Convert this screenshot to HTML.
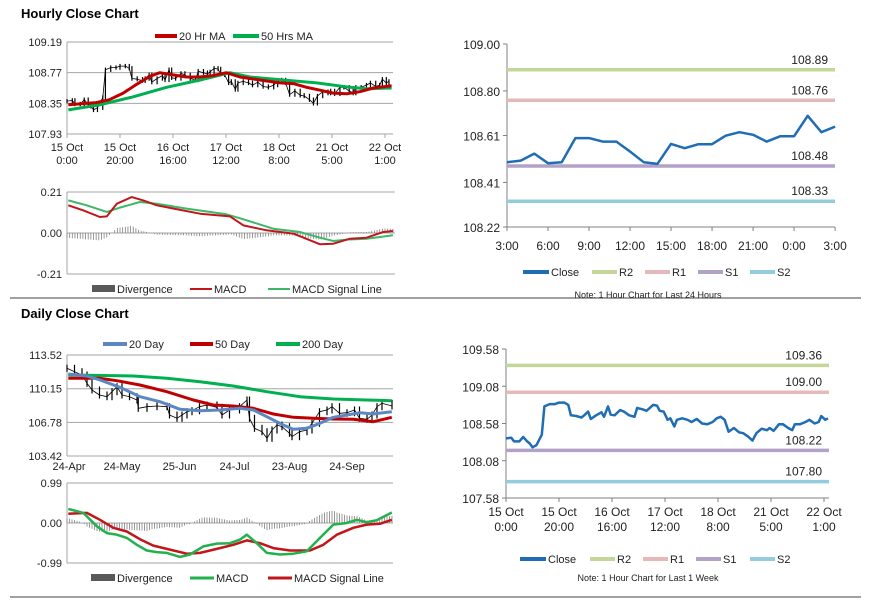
<!DOCTYPE html>
<html><head><meta charset="utf-8">
<style>
html,body{margin:0;padding:0;background:#fff;}
svg{display:block;font-family:"Liberation Sans",Arial,sans-serif;}
</style></head>
<body>
<svg id="c" width="873" height="601" viewBox="0 0 873 601" xmlns="http://www.w3.org/2000/svg"></svg>
<script>
// ---------- DATA ----------
// Hourly close, last 1 week (hour offset from 15 Oct 0:00)
const weekHours = [0,2,3,5,6.5,8,9,10,11.5,13.5,14.5,16.5,18.5,20,22,23.5,24.5,26.5,28.5,29.5,31,32,34,36,37,38.5,39.5,41,43,44.5,46.5,48.5,49.5,51.5,53,54,55.5,57,58,59.5,61,62,63.5,64.5,66.5,68.5,70,72,74,76,78,79.5,81,82.5,84,86,88,89.5,91.5,93,94.5,96.5,98.5,99.5,101,103,104.5,106.5,108,109,111,113,114.5,116.5,118,119,120.5,121.5];
const weekClose = [108.38,108.39,108.34,108.34,108.40,108.34,108.31,108.26,108.29,108.43,108.81,108.84,108.84,108.86,108.86,108.83,108.69,108.68,108.66,108.69,108.74,108.64,108.69,108.73,108.67,108.81,108.70,108.69,108.76,108.74,108.69,108.67,108.79,108.77,108.75,108.78,108.83,108.82,108.75,108.74,108.63,108.65,108.54,108.63,108.65,108.63,108.60,108.64,108.58,108.57,108.60,108.65,108.67,108.63,108.47,108.52,108.46,108.45,108.40,108.35,108.45,108.51,108.49,108.52,108.48,108.57,108.57,108.52,108.49,108.57,108.57,108.60,108.63,108.58,108.60,108.68,108.63,108.65];
const ma20Hours = [0.5,11,16,21.2,26.3,31.3,35,40,45,50,55,60.2,65.3,72.8,80.4,85.4,90.4,95.5,100.5,105.5,110.5,115.6,122.5];
const ma20Vals = [108.33,108.36,108.40,108.49,108.61,108.72,108.77,108.74,108.71,108.71,108.73,108.77,108.71,108.67,108.63,108.62,108.57,108.53,108.49,108.48,108.51,108.56,108.59];
const ma50Hours = [0.5,12.4,25,37.6,50.2,61.5,69,81.6,94.2,106.8,113,122.5];
const ma50Vals = [108.26,108.33,108.44,108.57,108.67,108.77,108.71,108.67,108.63,108.57,108.55,108.56];
const macdHHours = [0.5,6.2,12.4,15,18.8,24.4,28.8,33.9,40.3,50.2,61.5,66.6,75.3,85.4,95.5,100.5,106.8,113,119.4,123];
const macdHVals = [0.142,0.116,0.082,0.085,0.150,0.184,0.167,0.142,0.125,0.099,0.085,0.039,0.014,-0.003,-0.058,-0.055,-0.029,-0.024,0.005,0.010];
const sigHHours = [0.5,7.4,15,20,27.5,33.9,45.1,60.2,67.8,77.8,87.9,95.5,100.5,105.5,113,123];
const sigHVals = [0.167,0.142,0.108,0.130,0.159,0.150,0.125,0.096,0.065,0.022,0.005,-0.024,-0.041,-0.034,-0.029,-0.012];
const hourTicksH = [0,20,40,60,80,100,120];
const hourTickL1 = ["15 Oct","15 Oct","16 Oct","17 Oct","18 Oct","21 Oct","22 Oct"];
const hourTickL2 = ["0:00","20:00","16:00","12:00","8:00","5:00","1:00"];
const p1Ticks = [109.19,108.77,108.35,107.93];
const m1Ticks = [0.21,0.00,-0.21];

// 24-hour chart
const dayClose = [108.496,108.503,108.533,108.492,108.496,108.599,108.599,108.584,108.584,108.542,108.496,108.489,108.574,108.556,108.573,108.573,108.609,108.624,108.613,108.584,108.607,108.607,108.694,108.624,108.648];
const dayTickLabels = ["3:00","6:00","9:00","12:00","15:00","18:00","21:00","0:00","3:00"];
const p2Ticks = [109.00,108.80,108.61,108.41,108.22];
const levels24Names = ["R2","R1","S1","S2"];
const levels24 = [108.89,108.76,108.48,108.33];
const levelsWeek = [109.36,109.00,108.22,107.80];
const p4Ticks = [109.58,109.08,108.58,108.08,107.58];

// Daily chart (trading-day index)
const dClIdx = [0,3,6,8,10,13,16,18,20,22,25,28,28.5,32,36,40,41,44,46,48,50,53,56,60,62,65,69,72,73,75,78,80,82,84,86,89,90,93,96,98,101,104,106,109,112,115,117,120,122,124,126,130];
const dClVals = [112.19,111.85,111.52,110.69,110.02,109.52,109.35,109.85,110.35,109.52,109.35,109.02,108.19,108.35,108.42,108.35,107.52,107.19,107.52,107.85,107.95,108.35,108.52,108.29,107.52,108.02,108.35,109.02,107.19,106.19,105.85,105.19,106.02,106.52,106.35,105.69,105.35,105.85,106.02,106.69,107.85,108.02,108.35,107.69,107.75,108.02,107.19,107.09,107.52,108.35,108.69,108.42];
const d20Idx = [0.5,7.9,13.2,21.2,29.2,37.2,45.2,53.2,61.2,69.2,74.5,79.9,86.5,90.5,95.9,101.2,106.5,111.9,117.2,122.5,129.9];
const d20Vals = [111.62,111.42,111.02,110.29,109.35,108.85,108.09,107.95,108.02,108.19,108.02,107.35,106.52,106.09,106.19,106.69,107.29,107.52,107.75,107.62,107.85];
const d50Idx = [0.5,13.2,19.9,29.2,39.9,50.5,58.5,66.5,74.5,82.5,90.5,98.5,106.5,114.5,122.5,129.9];
const d50Vals = [111.19,111.19,110.95,110.52,109.85,109.02,108.52,108.42,108.19,107.62,107.29,107.19,107.12,107.09,106.85,107.29];
const d200Idx = [0.5,26.5,39.9,53.2,66.5,79.9,93.2,106.5,119.9,129.9];
const d200Vals = [111.52,111.42,111.19,110.85,110.42,109.85,109.35,109.12,109.02,108.95];
const dMacdIdx = [0.5,6.5,11.9,15.9,19.9,23.9,27.9,31.9,35.9,39.9,45.2,49.2,54.5,59.9,65.2,69.2,71.9,75.9,79.9,85.2,90.5,95.9,101.2,106.5,111.9,115.9,119.9,123.9,129.9];
const dMacdVals = [0.35,0.25,-0.08,-0.25,-0.29,-0.37,-0.54,-0.68,-0.72,-0.74,-0.84,-0.78,-0.58,-0.51,-0.50,-0.41,-0.29,-0.50,-0.74,-0.78,-0.76,-0.70,-0.37,-0.04,0.00,0.08,0.02,0.07,0.26];
const dSigIdx = [0.5,7.9,13.2,18.5,23.9,29.2,34.5,39.9,47.9,53.2,59.9,66.5,71.9,77.2,82.5,89.2,97.2,102.5,107.9,114.5,119.9,125.2,129.9];
const dSigVals = [0.23,0.25,0.08,-0.12,-0.21,-0.40,-0.56,-0.64,-0.76,-0.74,-0.64,-0.54,-0.43,-0.50,-0.62,-0.68,-0.68,-0.54,-0.29,-0.12,-0.04,-0.02,0.08];
const dTickIdx = [0,22,45,67,89,112];
const dTickLabels = ["24-Apr","24-May","25-Jun","24-Jul","23-Aug","24-Sep"];
const p3Ticks = [113.52,110.15,106.78,103.42];
const m3Ticks = [0.99,0.00,-0.99];

// ---------- DRAW ----------
const NS = "http://www.w3.org/2000/svg";
const svg = document.getElementById("c");
function el(tag, attrs, name, parent) {
  const e = document.createElementNS(NS, tag);
  for (const k in attrs) e.setAttribute(k, attrs[k]);
  
  
  (parent || svg).appendChild(e);
  return e;
}
function txt(x, y, s, name, opts) {
  opts = opts || {};
  const t = el("text", {x: x, y: y, "font-size": opts.size || 11, fill: opts.fill || "#222",
    "text-anchor": opts.anchor || "start", "font-weight": opts.weight || "normal"}, name);
  t.textContent = s;
  return t;
}
function line(x1, y1, x2, y2, stroke, w, name) {
  return el("line", {x1: x1, y1: y1, x2: x2, y2: y2, stroke: stroke, "stroke-width": w}, name);
}
function poly(xs, ys, fx, fy, stroke, w, name) {
  const pts = xs.map((h, i) => fx(h).toFixed(1) + "," + fy(ys[i]).toFixed(1)).join(" ");
  return el("polyline", {points: pts, fill: "none", stroke: stroke, "stroke-width": w, "stroke-linejoin": "round"}, name);
}
function interp(xs, ys, x) {
  if (x <= xs[0]) return ys[0];
  for (let i = 1; i < xs.length; i++) if (x <= xs[i]) {
    const t = (x - xs[i-1]) / (xs[i] - xs[i-1]); return ys[i-1] + t * (ys[i] - ys[i-1]);
  }
  return ys[ys.length - 1];
}
function legendLine(x, y, w, color, label, name, lw) {
  line(x, y, x + w, y, color, lw || 4, name + "-swatch");
  txt(x + w + 2, y + 4, label, name + "-label", {size: 11});
}

// separators and titles
line(10, 298, 861, 298, "#808080", 1.5, "section-divider");
line(10, 597, 861, 597, "#808080", 1.5, "bottom-divider");
txt(21, 18, "Hourly Close Chart", "hourly-title", {size: 13, weight: "bold", fill: "#000"});
txt(21, 318, "Daily Close Chart", "daily-title", {size: 13, weight: "bold", fill: "#000"});

// ===== Panel 1: hourly price =====
const x1 = h => 67 + h * 2.65;
const y1 = v => 42 + (109.19 - v) / 1.26 * 92;
p1Ticks.forEach((v, i) => {
  line(67, y1(v), 393, y1(v), "#a6a6a6", 1, "p1-gridline");
  txt(62, y1(v) + 4, v.toFixed(2), "p1-y-tick", {anchor: "end"});
});
line(67, 42, 67, 134, "#a6a6a6", 1, "p1-y-axis");
hourTicksH.forEach((h, i) => {
  line(x1(h), 134, x1(h), 138, "#a6a6a6", 1, "p1-x-tickmark");
  txt(x1(h), 151, hourTickL1[i], "p1-x-tick", {anchor: "middle"});
  txt(x1(h), 164, hourTickL2[i], "p1-x-tick", {anchor: "middle"});
});
poly(weekHours, weekClose, x1, y1, "#000", 0.8, "p1-close-line");
weekHours.forEach((h, i) => {
  const prev = i > 0 ? weekClose[i-1] : weekClose[i];
  const hi = Math.max(prev, weekClose[i]) + 0.03, lo = Math.min(prev, weekClose[i]) - 0.03;
  line(x1(h), y1(hi), x1(h), y1(lo), "#000", 1.2, "p1-price-bar");
});
poly(ma50Hours, ma50Vals, x1, y1, "#00b050", 3, "ma50-line");
poly(ma20Hours, ma20Vals, x1, y1, "#c00000", 3, "ma20-line");
legendLine(155, 36, 22, "#c00000", "20 Hr MA", "legend-ma20");
legendLine(233, 36, 26, "#00b050", "50 Hrs MA", "legend-ma50");

// ===== Panel 1b: hourly MACD =====
const ym1 = v => 233 - v / 0.21 * 41;
m1Ticks.forEach(v => {
  line(67, ym1(v), 395, ym1(v), "#a6a6a6", 1, "m1-gridline");
  txt(62, ym1(v) + 4, v.toFixed(2), "m1-y-tick", {anchor: "end"});
});
line(67, 192, 67, 274, "#a6a6a6", 1, "m1-y-axis");
for (let h = 0; h <= 123; h += 1) {
  const d = interp(macdHHours, macdHVals, h) - interp(sigHHours, sigHVals, h);
  line(x1(h), ym1(0), x1(h), ym1(d), "#7f7f7f", 0.8, "m1-divergence-bar");
}
poly(sigHHours, sigHVals, x1, ym1, "#3cb868", 2, "m1-signal-line");
poly(macdHHours, macdHVals, x1, ym1, "#c0161c", 2, "m1-macd-line");
el("rect", {x: 92, y: 285, width: 23, height: 7, fill: "#595959"}, "legend-divergence-swatch");
txt(117, 293, "Divergence", "legend-divergence-label");
legendLine(190, 289, 22, "#c0161c", "MACD", "legend-macd-h", 2);
legendLine(268, 289, 22, "#3cb868", "MACD Signal Line", "legend-signal-h", 2);

// ===== Panel 2: 24-hour close with levels =====
const x2 = i => 507 + i * 13.67;
const y2 = v => 44 + (109.00 - v) / 0.78 * 183;
line(507, 44, 507, 227, "#808080", 1, "p2-y-axis");
line(507, 227, 835, 227, "#808080", 1, "p2-x-axis");
p2Ticks.forEach(v => {
  line(503, y2(v), 507, y2(v), "#808080", 1, "p2-y-tickmark");
  txt(500, y2(v) + 5, v.toFixed(2), "p2-y-tick", {anchor: "end", size: 12});
});
dayTickLabels.forEach((s, i) => {
  line(x2(i*3), 227, x2(i*3), 231, "#808080", 1, "p2-x-tickmark");
  txt(x2(i*3), 250, s, "p2-x-tick", {anchor: "middle", size: 12});
});
const levelColors = ["#c4d79b", "#e6b9b8", "#b3a2c7", "#93cddd"];
levels24.forEach((v, i) => {
  line(507, y2(v), 835, y2(v), levelColors[i], 3.5, "p2-level-" + levels24Names[i].toLowerCase());
  txt(828, y2(v) - 6, v.toFixed(2), "p2-level-label", {anchor: "end", size: 12});
});
const dayIdx = dayClose.map((v, i) => i);
poly(dayIdx, dayClose, x2, y2, "#1f6db4", 2.5, "p2-close-line");
legendLine(523, 272, 26, "#1f6db4", "Close", "legend-close-24");
legendLine(592, 272, 25, levelColors[0], "R2", "legend-r2-24");
legendLine(645, 272, 25, levelColors[1], "R1", "legend-r1-24");
legendLine(698, 272, 25, levelColors[2], "S1", "legend-s1-24");
legendLine(750, 272, 25, levelColors[3], "S2", "legend-s2-24");
txt(648, 298, "Note: 1 Hour Chart for Last 24 Hours", "p2-note", {anchor: "middle", size: 9});

// ===== Panel 3: daily price =====
const x3 = i => 67 + i * 2.5;
const y3 = v => 355 + (113.52 - v) / 10.1 * 101;
p3Ticks.forEach(v => {
  line(67, y3(v), 393, y3(v), "#a6a6a6", 1, "p3-gridline");
  txt(62, y3(v) + 4, v.toFixed(2), "p3-y-tick", {anchor: "end"});
});
line(67, 355, 67, 456, "#a6a6a6", 1, "p3-y-axis");
dTickIdx.forEach((d, i) => {
  txt(x3(d) + (i === 0 ? 2 : 0), 470, dTickLabels[i], "p3-x-tick", {anchor: "middle"});
});
poly(dClIdx, dClVals, x3, y3, "#000", 0.8, "p3-close-line");
dClIdx.forEach((d, i) => {
  const prev = i > 0 ? dClVals[i-1] : dClVals[i];
  const hi = Math.max(prev, dClVals[i]) + 0.35, lo = Math.min(prev, dClVals[i]) - 0.35;
  line(x3(d), y3(hi), x3(d), y3(lo), "#000", 1.2, "p3-price-bar");
});
poly(d200Idx, d200Vals, x3, y3, "#00b050", 3, "ma200-day-line");
poly(d50Idx, d50Vals, x3, y3, "#c00000", 3, "ma50-day-line");
poly(d20Idx, d20Vals, x3, y3, "#5b87c5", 3, "ma20-day-line");
legendLine(103, 344, 24, "#5b87c5", "20 Day", "legend-20day");
legendLine(190, 344, 23, "#c00000", "50 Day", "legend-50day");
legendLine(276, 344, 24, "#00b050", "200 Day", "legend-200day");

// ===== Panel 3b: daily MACD =====
const ym3 = v => 523 - v / 0.99 * 40;
m3Ticks.forEach(v => {
  line(67, ym3(v), 393, ym3(v), "#a6a6a6", 1, "m3-gridline");
  txt(62, ym3(v) + 4, v.toFixed(2), "m3-y-tick", {anchor: "end"});
});
line(67, 483, 67, 563, "#a6a6a6", 1, "m3-y-axis");
for (let d = 0; d <= 130; d += 1) {
  const dv = interp(dMacdIdx, dMacdVals, d) - interp(dSigIdx, dSigVals, d);
  line(x3(d), ym3(0), x3(d), ym3(dv), "#7f7f7f", 0.8, "m3-divergence-bar");
}
poly(dSigIdx, dSigVals, x3, ym3, "#c0161c", 2.5, "m3-signal-line");
poly(dMacdIdx, dMacdVals, x3, ym3, "#22b14c", 2.5, "m3-macd-line");
el("rect", {x: 91, y: 574, width: 24, height: 7, fill: "#595959"}, "legend-divergence-d-swatch");
txt(117, 582, "Divergence", "legend-divergence-d-label");
legendLine(190, 578, 24, "#22b14c", "MACD", "legend-macd-d", 3);
legendLine(268, 578, 24, "#c0161c", "MACD Signal Line", "legend-signal-d", 3);

// ===== Panel 4: 1-week close with levels =====
const x4 = h => 506 + h * 2.65;
const y4 = v => 349 + (109.58 - v) / 2 * 149;
line(506, 349, 506, 498, "#808080", 1, "p4-y-axis");
line(506, 498, 829, 498, "#808080", 1, "p4-x-axis");
p4Ticks.forEach(v => {
  line(502, y4(v), 506, y4(v), "#808080", 1, "p4-y-tickmark");
  txt(499, y4(v) + 5, v.toFixed(2), "p4-y-tick", {anchor: "end", size: 12});
});
hourTicksH.forEach((h, i) => {
  line(x4(h), 498, x4(h), 502, "#808080", 1, "p4-x-tickmark");
  txt(x4(h), 516, hourTickL1[i], "p4-x-tick", {anchor: "middle", size: 12});
  txt(x4(h), 531, hourTickL2[i], "p4-x-tick", {anchor: "middle", size: 12});
});
levelsWeek.forEach((v, i) => {
  line(506, y4(v), 829, y4(v), levelColors[i], 3.5, "p4-level-" + levels24Names[i].toLowerCase());
  txt(822, y4(v) - 6, v.toFixed(2), "p4-level-label", {anchor: "end", size: 12});
});
poly(weekHours, weekClose, x4, y4, "#1f6db4", 2.5, "p4-close-line");
legendLine(520, 559, 26, "#1f6db4", "Close", "legend-close-w");
legendLine(590, 559, 25, levelColors[0], "R2", "legend-r2-w");
legendLine(643, 559, 25, levelColors[1], "R1", "legend-r1-w");
legendLine(696, 559, 25, levelColors[2], "S1", "legend-s1-w");
legendLine(750, 559, 25, levelColors[3], "S2", "legend-s2-w");
txt(648, 581, "Note: 1 Hour Chart for Last 1 Week", "p4-note", {anchor: "middle", size: 9});
</script>
</body></html>
